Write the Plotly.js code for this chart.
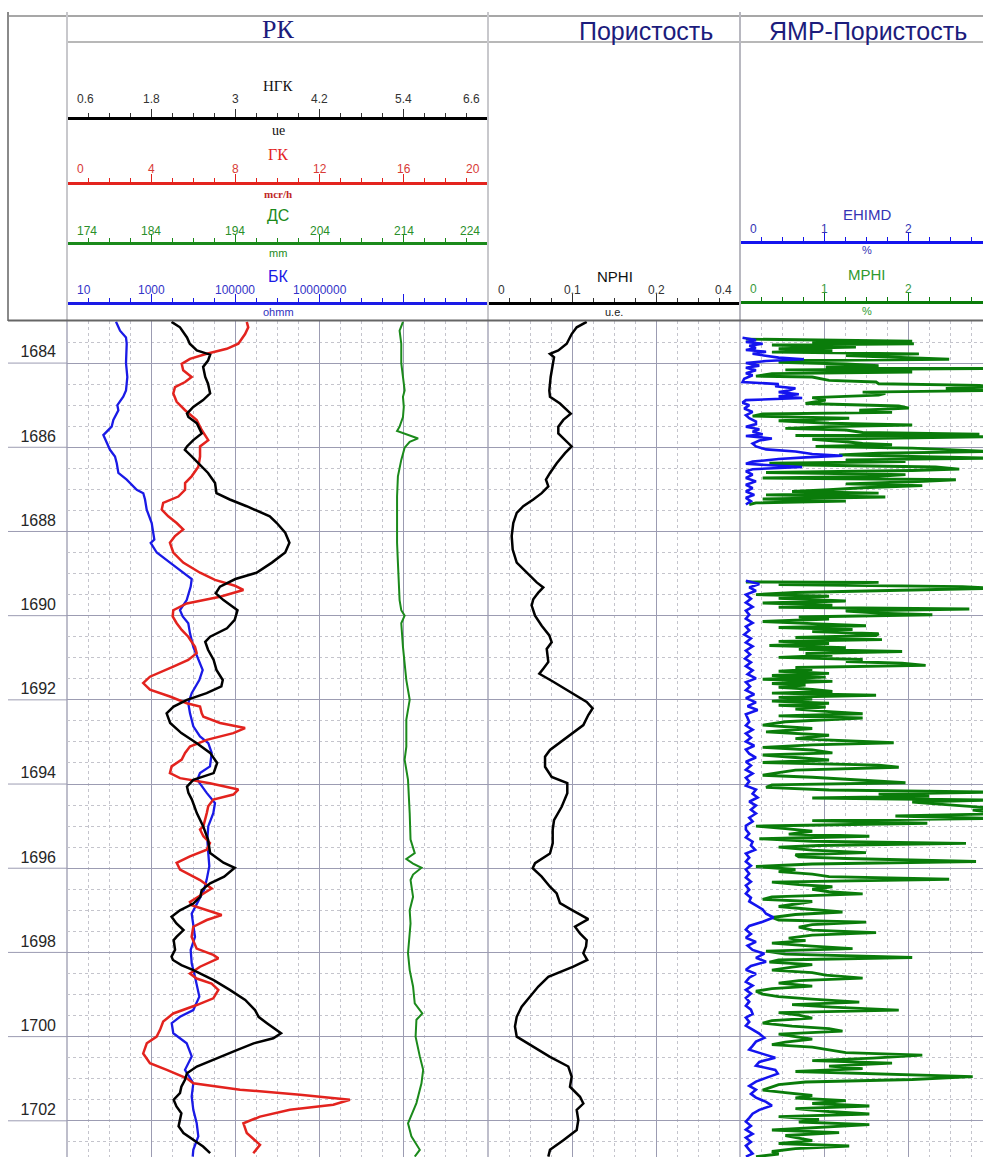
<!DOCTYPE html>
<html><head><meta charset="utf-8">
<script src="https://cdn.plot.ly/plotly-3.0.1.min.js"></script>
<style>html,body{margin:0;padding:0;background:#fff;overflow:hidden}#chart{width:983px;height:1157px}</style>
</head><body><div id="chart"></div>
<script>
// ---------------- DATA ----------------
const depthTicks = [1684,1686,1688,1690,1692,1694,1696,1698,1700,1702];

const ngkDepth = [1683.02,1683.15,1683.39,1683.54,1683.70,1683.80,1683.94,1684.09,1684.33,1684.49,1684.72,1684.88,1685.04,1685.20,1685.28,1685.43,1685.67,1685.83,1685.98,1686.06,1686.22,1686.38,1686.61,1686.85,1687.09,1687.24,1687.40,1687.64,1687.80,1688.03,1688.27,1688.50,1688.74,1688.98,1689.13,1689.31,1689.47,1689.63,1689.87,1690.10,1690.30,1690.50,1690.62,1690.81,1691.05,1691.29,1691.53,1691.68,1691.84,1692.00,1692.16,1692.32,1692.55,1692.79,1693.03,1693.26,1693.50,1693.74,1693.90,1694.06,1694.21,1694.37,1694.69,1695.00,1695.32,1695.64,1695.87,1695.99,1696.20,1696.36,1696.52,1696.68,1696.84,1697.00,1697.15,1697.31,1697.47,1697.63,1697.71,1697.94,1698.10,1698.18,1698.30,1698.42,1698.66,1698.89,1699.13,1699.37,1699.53,1699.68,1699.84,1699.92,1700.04,1700.16,1700.32,1700.55,1700.71,1700.87,1701.03,1701.19,1701.34,1701.50,1701.66,1701.82,1701.98,1702.13,1702.29,1702.45,1702.61,1702.77];
const ngk = [2.09,2.21,2.31,2.35,2.45,2.64,2.61,2.54,2.57,2.61,2.64,2.54,2.40,2.31,2.33,2.45,2.52,2.40,2.31,2.28,2.38,2.47,2.61,2.71,2.73,2.92,3.16,3.49,3.59,3.71,3.77,3.71,3.52,3.30,3.00,2.78,2.72,2.83,3.03,2.99,2.88,2.64,2.57,2.61,2.69,2.73,2.82,2.80,2.59,2.31,2.12,2.02,2.07,2.23,2.45,2.64,2.74,2.69,2.40,2.31,2.33,2.38,2.45,2.54,2.61,2.64,2.83,2.99,2.84,2.64,2.52,2.50,2.40,2.21,2.09,2.16,2.26,2.16,2.12,2.14,2.09,2.11,2.23,2.40,2.69,2.92,3.14,3.28,3.33,3.45,3.59,3.65,3.54,3.26,3.02,2.69,2.45,2.31,2.28,2.23,2.21,2.12,2.16,2.23,2.21,2.19,2.26,2.40,2.54,2.64];

const gkDepth = [1683.02,1683.15,1683.31,1683.54,1683.66,1683.78,1683.90,1684.02,1684.17,1684.33,1684.45,1684.57,1684.72,1684.92,1685.12,1685.35,1685.59,1685.83,1685.98,1686.22,1686.46,1686.69,1686.85,1687.01,1687.17,1687.32,1687.48,1687.64,1687.80,1687.95,1688.11,1688.27,1688.50,1688.74,1688.98,1689.15,1689.29,1689.39,1689.55,1689.71,1689.87,1690.02,1690.18,1690.34,1690.50,1690.74,1690.89,1691.05,1691.21,1691.45,1691.60,1691.76,1691.92,1692.08,1692.16,1692.32,1692.40,1692.55,1692.67,1692.79,1692.95,1693.11,1693.26,1693.42,1693.58,1693.74,1693.86,1693.98,1694.13,1694.25,1694.37,1694.53,1694.69,1695.00,1695.08,1695.24,1695.40,1695.56,1695.72,1695.87,1696.03,1696.19,1696.28,1696.48,1696.60,1696.80,1696.88,1697.00,1697.11,1697.23,1697.39,1697.63,1697.91,1698.06,1698.14,1698.34,1698.50,1698.62,1698.74,1698.89,1699.09,1699.25,1699.45,1699.64,1699.84,1700.00,1700.16,1700.40,1700.63,1700.79,1700.99,1701.11,1701.26,1701.38,1701.50,1701.62,1701.74,1701.90,1702.06,1702.29,1702.57,1702.77];
const gk = [8.54,8.61,8.46,8.14,7.59,6.64,5.84,5.45,5.52,5.92,5.61,5.13,5.05,5.21,5.61,6.16,6.40,6.71,6.32,6.32,6.24,5.92,5.61,5.61,5.29,4.57,4.50,4.81,5.21,5.52,5.13,4.89,5.05,5.52,6.32,7.03,7.98,8.38,7.27,5.69,5.05,5.02,5.21,5.45,5.76,6.08,6.16,5.76,5.05,3.94,3.62,3.94,4.89,5.69,6.32,6.40,6.48,7.27,8.46,7.90,6.64,5.84,5.61,5.45,4.97,4.89,5.37,6.79,8.14,7.90,6.95,6.71,6.64,6.48,6.32,6.48,6.79,6.64,5.84,5.21,5.37,6.00,6.32,6.87,6.48,5.84,5.92,6.64,7.35,6.64,6.00,5.92,6.16,6.95,7.19,6.32,5.84,6.16,6.87,7.19,6.95,6.16,5.05,4.57,4.42,4.26,3.79,3.62,3.94,4.74,5.69,6.00,8.22,11.07,13.44,12.65,10.59,9.17,8.38,8.54,9.17,8.85];

const dsDepth = [1683.02,1683.23,1683.54,1684.00,1684.33,1684.65,1684.80,1685.04,1685.28,1685.51,1685.61,1685.67,1685.79,1685.87,1686.01,1686.30,1686.69,1687.17,1687.64,1688.27,1688.74,1689.37,1689.63,1689.87,1690.00,1690.18,1690.74,1691.53,1692.00,1692.47,1693.11,1693.42,1693.90,1694.69,1695.32,1695.64,1695.78,1695.89,1695.99,1696.15,1696.28,1696.68,1697.00,1697.31,1697.63,1698.02,1698.42,1698.81,1699.21,1699.45,1699.60,1700.00,1700.47,1700.79,1701.11,1701.58,1702.06,1702.37,1702.69,1702.85];
const ds = [213.9,213.5,213.7,213.7,213.9,214.1,213.9,214.0,213.9,213.5,213.2,214.1,215.7,214.7,214.1,213.7,213.3,213.2,213.2,213.2,213.3,213.5,213.5,213.7,214.1,213.7,213.9,214.3,214.7,214.3,214.3,214.1,214.5,214.7,214.8,215.3,214.3,215.1,216.1,215.1,214.8,215.1,214.7,214.8,214.7,214.5,214.7,215.1,215.3,216.2,215.5,215.4,215.9,216.3,216.1,215.5,214.5,214.9,215.9,215.3];

const bkDepth = [1683.02,1683.23,1683.39,1683.54,1684.00,1684.33,1684.65,1684.80,1685.00,1685.12,1685.35,1685.51,1685.71,1685.91,1686.06,1686.22,1686.38,1686.61,1686.77,1687.01,1687.09,1687.24,1687.48,1687.80,1688.01,1688.19,1688.27,1688.50,1688.74,1688.98,1689.13,1689.31,1689.63,1689.87,1690.02,1690.18,1690.42,1690.74,1691.05,1691.29,1691.53,1691.84,1692.08,1692.32,1692.63,1692.87,1693.03,1693.26,1693.58,1693.74,1693.90,1694.21,1694.45,1694.69,1695.00,1695.32,1695.64,1695.95,1696.27,1696.52,1697.08,1697.63,1697.94,1698.26,1698.58,1699.05,1699.37,1699.53,1699.68,1699.92,1700.16,1700.47,1700.79,1701.11,1701.42,1701.74,1702.06,1702.37,1702.69,1702.85];
const bk = [146,182,252,262,252,271,252,217,157,166,126,115,73,88,105,138,152,166,262,453,649,713,782,1028,1122,1186,973,1352,2798,5781,9162,8670,6970,4830,5600,7600,8350,10000,13150,16720,13900,9162,7600,8350,10000,14420,22700,27350,24900,14420,12450,20800,32750,29850,22700,21500,22700,24000,20800,17950,9162,10970,8670,9162,10970,13900,10000,4830,3070,3350,6970,9162,6350,10000,9162,10000,12050,13150,10000,9680];

const nphiDepth = [1683.02,1683.15,1683.31,1683.54,1683.70,1683.78,1683.86,1684.02,1684.33,1684.65,1684.80,1684.96,1685.20,1685.35,1685.51,1685.67,1685.83,1685.98,1686.14,1686.38,1686.61,1686.77,1686.93,1687.09,1687.24,1687.40,1687.56,1687.80,1688.11,1688.43,1688.74,1688.98,1689.21,1689.33,1689.45,1689.61,1689.76,1690.00,1690.24,1690.47,1690.63,1690.79,1690.94,1691.10,1691.26,1691.38,1691.57,1691.81,1692.05,1692.20,1692.36,1692.60,1692.72,1692.95,1693.19,1693.35,1693.59,1693.83,1693.98,1694.22,1694.54,1694.86,1695.09,1695.41,1695.65,1695.88,1696.00,1696.20,1696.44,1696.60,1696.83,1696.99,1697.21,1697.39,1697.55,1697.71,1697.86,1698.02,1698.18,1698.34,1698.58,1698.81,1699.05,1699.29,1699.53,1699.76,1700.00,1700.24,1700.48,1700.71,1700.95,1701.19,1701.43,1701.59,1701.74,1701.98,1702.22,1702.46,1702.69,1702.85];
const nphi = [0.1175,0.1056,0.0996,0.0937,0.0837,0.0738,0.0786,0.0770,0.0746,0.0730,0.0738,0.0857,0.0985,0.0897,0.0837,0.0837,0.0917,0.0996,0.0917,0.0818,0.0738,0.0690,0.0718,0.0639,0.0539,0.0420,0.0342,0.0301,0.0282,0.0294,0.0342,0.0461,0.0580,0.0658,0.0599,0.0539,0.0520,0.0560,0.0639,0.0730,0.0758,0.0699,0.0711,0.0718,0.0658,0.0611,0.0777,0.0976,0.1175,0.1246,0.1194,0.1135,0.1056,0.0897,0.0738,0.0679,0.0679,0.0758,0.0944,0.0944,0.0877,0.0786,0.0770,0.0770,0.0738,0.0560,0.0532,0.0639,0.0738,0.0818,0.0857,0.0996,0.1194,0.1036,0.1095,0.1175,0.1167,0.1135,0.1182,0.1016,0.0718,0.0599,0.0500,0.0401,0.0342,0.0321,0.0342,0.0539,0.0738,0.0956,0.0996,0.0976,0.1095,0.1135,0.1056,0.1075,0.1056,0.0897,0.0738,0.0718];

const mphiDepth = [1683.43,1683.48,1683.51,1683.54,1683.57,1683.62,1683.66,1683.70,1683.74,1683.78,1683.82,1683.86,1683.91,1683.94,1683.98,1684.02,1684.06,1684.09,1684.13,1684.16,1684.21,1684.25,1684.31,1684.33,1684.41,1684.45,1684.49,1684.53,1684.57,1684.60,1684.65,1684.69,1684.72,1684.76,1684.82,1684.88,1684.96,1685.02,1685.07,1685.12,1685.17,1685.21,1685.26,1685.31,1685.37,1685.43,1685.47,1685.51,1685.55,1685.59,1685.65,1685.69,1685.72,1685.75,1685.81,1685.87,1685.91,1685.94,1685.98,1686.02,1686.06,1686.10,1686.14,1686.18,1686.22,1686.26,1686.30,1686.34,1686.38,1686.42,1686.47,1686.52,1686.55,1686.60,1686.65,1686.69,1686.73,1686.77,1686.82,1686.87,1686.91,1686.96,1687.01,1687.05,1687.09,1687.13,1687.18,1687.23,1687.28,1687.32,1687.36,
  null,
  1689.20,1689.21,1689.26,1689.31,1689.35,1689.40,1689.45,1689.50,1689.54,1689.59,1689.65,1689.70,1689.75,1689.80,1689.84,1689.89,1689.94,1689.98,1690.03,1690.08,1690.14,1690.19,1690.24,1690.28,1690.33,1690.38,1690.43,1690.47,1690.52,1690.57,1690.61,1690.66,1690.71,1690.76,1690.80,1690.85,1690.90,1690.94,1690.99,1691.04,1691.09,1691.13,1691.18,1691.23,1691.28,1691.32,1691.37,1691.42,1691.46,1691.51,1691.56,1691.61,1691.65,1691.70,1691.75,1691.80,1691.84,1691.89,1691.94,1691.98,1692.03,1692.08,1692.13,1692.17,1692.22,1692.28,1692.33,1692.38,1692.43,
  1692.52,1692.60,1692.68,1692.76,1692.84,1692.92,1693.02,1693.07,1693.13,1693.19,1693.26,1693.31,1693.37,1693.43,1693.49,1693.55,1693.60,1693.67,1693.73,1693.79,1693.84,1693.90,1693.97,1694.02,1694.08,1694.14,1694.19,1694.24,1694.29,1694.33,1694.38,1694.43,1694.48,1694.52,1694.57,1694.62,1694.67,1694.71,1694.76,1694.82,1694.87,1694.93,1695.00,1695.06,1695.12,1695.19,1695.24,1695.30,1695.36,1695.41,1695.46,1695.50,1695.57,1695.63,1695.68,1695.73,1695.77,1695.84,1695.90,1695.96,1696.03,1696.08,1696.14,1696.20,1696.26,1696.33,1696.39,1696.44,1696.50,1696.56,1696.61,1696.68,1696.74,1696.79,1696.85,1696.91,1696.98,1697.04,1697.10,1697.17,1697.23,1697.28,1697.34,1697.40,1697.47,1697.53,1697.59,1697.66,1697.72,1697.78,1697.85,1697.91,1697.97,1698.04,1698.12,1698.18,1698.23,1698.29,1698.35,1698.42,1698.48,1698.54,1698.61,1698.67,1698.73,1698.80,1698.86,1698.92,1698.99,1699.05,1699.11,1699.18,1699.24,1699.30,1699.37,1699.43,1699.49,1699.56,1699.62,1699.68,1699.75,1699.81,1699.87,1699.94,1700.00,1700.06,1700.13,1700.19,1700.25,1700.32,1700.38,1700.44,1700.51,1700.57,1700.63,1700.70,1700.76,1700.83,1700.89,1700.95,1701.02,1701.08,1701.14,1701.21,1701.27,1701.33,1701.40,1701.46,1701.52,1701.59,1701.65,1701.71,1701.78,1701.84,1701.90,1701.97,1702.03,1702.09,1702.16,1702.22,1702.28,1702.35,1702.41,1702.47,1702.54,1702.60,1702.66,1702.73,1702.79,1702.85];
const mphi = [0.07,2.05,0.86,2.07,0.38,1.38,0.46,1.10,0.38,2.13,1.26,1.85,2.49,0.70,0.46,1.26,1.65,1.02,3.0,0.54,2.05,0.38,0.19,0.86,1.06,1.62,1.65,2.85,3.0,2.45,3.0,1.46,1.73,1.65,0.86,1.02,0.78,1.89,2.01,1.42,1.81,0.27,0.15,1.30,0.46,1.06,2.05,1.06,0.54,1.26,1.46,2.85,0.66,3.0,0.86,1.26,1.46,1.81,0.90,2.05,2.65,3.0,1.65,1.18,2.05,3.0,1.26,1.97,0.35,0.78,2.33,2.61,2.05,0.31,1.97,1.65,0.27,2.57,2.05,1.26,2.17,1.46,1.06,0.62,1.65,0.31,1.73,0.27,1.26,0.19,0.11,
  null,
  0.07,1.65,0.46,2.65,3.0,1.65,0.66,0.19,1.06,0.46,1.26,0.27,1.10,0.46,2.73,1.26,1.65,2.29,0.70,1.06,0.27,0.86,1.50,0.46,1.34,0.86,1.65,1.62,0.66,1.69,0.46,1.06,0.35,1.26,0.70,1.93,0.78,1.10,0.46,1.46,1.26,1.93,2.21,0.66,0.86,0.46,1.06,0.38,1.02,0.27,1.10,0.38,0.78,0.46,0.86,1.10,0.38,1.62,0.46,0.86,0.38,1.06,0.46,1.02,0.66,1.06,1.46,0.46,1.46,
  0.54,0.27,0.86,0.31,1.06,0.66,1.83,0.86,0.27,0.86,1.10,0.27,0.66,1.06,0.27,1.65,1.89,0.66,0.46,0.27,0.86,1.38,1.97,0.38,0.31,1.06,3.0,1.65,2.25,0.86,3.0,2.05,2.37,2.53,3.0,2.77,3.0,3.0,1.85,3.0,0.86,2.23,0.19,0.54,0.86,0.58,1.54,0.23,0.86,2.69,0.94,0.46,0.86,1.50,0.66,0.70,1.26,2.81,0.86,0.19,0.66,0.46,0.86,1.06,2.49,0.38,0.70,1.10,0.86,1.06,1.46,0.38,0.27,0.86,0.66,0.46,0.86,1.22,0.66,0.38,0.46,1.50,0.86,0.70,0.86,1.62,0.86,0.58,0.78,0.38,0.86,1.34,0.31,0.54,2.05,0.46,0.35,0.86,0.62,0.38,0.86,1.02,1.46,0.70,0.46,0.86,0.38,0.19,0.27,0.46,0.86,1.42,0.62,1.10,1.89,0.46,0.70,0.86,0.38,0.27,0.62,1.06,1.22,0.46,0.66,0.86,0.54,0.38,0.86,1.06,1.26,2.17,1.58,0.86,1.81,1.06,1.46,0.66,1.65,2.77,2.05,0.78,0.46,0.35,0.27,0.54,0.86,0.66,1.26,0.86,1.54,0.66,1.06,1.54,0.46,0.94,0.70,1.54,0.86,0.38,1.18,0.54,0.70,0.86,0.46,1.30,0.66,0.38,0.46,0.19];

const ehimdDepth = [1683.40,1683.45,1683.50,1683.54,1683.59,1683.64,1683.69,1683.73,1683.78,1683.83,1683.87,1683.91,1683.95,1684.00,1684.06,1684.11,1684.17,1684.24,1684.29,1684.37,1684.45,1684.50,1684.55,1684.60,1684.65,1684.69,1684.74,1684.79,1684.83,1684.88,1684.94,1685.00,1685.08,1685.16,1685.24,1685.31,1685.39,1685.45,1685.51,1685.57,1685.63,1685.69,1685.73,1685.79,1685.84,1685.91,1685.98,1686.05,1686.10,1686.16,1686.20,1686.24,1686.28,1686.34,1686.39,1686.44,1686.47,1686.52,1686.57,1686.65,1686.73,1686.81,1686.89,1686.97,1687.05,1687.13,1687.20,1687.28,1687.36,
  null,
  1689.17,1689.25,1689.33,1689.41,1689.50,1689.60,1689.69,1689.79,1689.88,1689.98,1690.07,1690.17,1690.26,1690.35,1690.45,1690.54,1690.64,1690.73,1690.83,1690.92,1691.02,1691.11,1691.20,1691.30,1691.39,1691.49,1691.58,1691.68,1691.77,1691.87,1691.96,1692.06,1692.15,1692.24,1692.34,
  1692.52,1692.61,1692.71,1692.80,1692.90,1692.99,1693.09,1693.18,1693.28,1693.37,1693.47,1693.56,1693.66,1693.75,1693.85,1693.94,1694.04,1694.13,1694.23,1694.32,1694.42,1694.51,1694.61,1694.70,1694.80,1694.89,1694.99,1695.08,1695.18,1695.27,1695.37,1695.46,1695.56,1695.65,1695.75,1695.84,1695.94,1696.03,1696.13,1696.22,1696.32,1696.41,1696.51,1696.60,1696.70,1696.79,1696.89,1696.98,1697.08,1697.17,1697.27,1697.37,1697.46,1697.56,1697.65,1697.75,1697.84,1697.94,1698.03,1698.13,1698.22,1698.32,1698.41,1698.51,1698.60,1698.70,1698.79,1698.89,1698.98,1699.08,1699.17,1699.27,1699.36,1699.46,1699.55,1699.65,1699.74,1699.84,1699.93,1700.03,1700.12,1700.22,1700.31,1700.41,1700.50,1700.60,1700.69,1700.79,1700.88,1700.98,1701.07,1701.17,1701.26,1701.36,1701.45,1701.55,1701.64,1701.74,1701.83,1701.93,1702.02,1702.12,1702.21,1702.31,1702.40,1702.50,1702.59,1702.69,1702.78,1702.85];
const ehimd = [0.03,0.19,0.07,0.27,0.11,0.19,0.07,0.31,0.15,0.31,0.46,0.76,0.31,0.07,0.23,0.07,0.19,0.07,0.15,0.05,0.03,0.46,0.42,0.66,0.58,0.46,0.70,0.46,0.74,0.07,0.03,0.11,0.05,0.15,0.07,0.11,0.19,0.19,0.07,0.23,0.15,0.27,0.07,0.38,0.23,0.15,0.19,0.31,0.66,0.86,1.22,0.78,0.46,0.15,0.07,0.46,0.74,0.15,0.07,0.15,0.07,0.19,0.07,0.15,0.07,0.17,0.07,0.13,0.07,
  null,
  0.07,0.23,0.11,0.19,0.07,0.13,0.07,0.15,0.07,0.11,0.07,0.15,0.07,0.11,0.05,0.13,0.07,0.15,0.07,0.12,0.06,0.13,0.07,0.15,0.09,0.19,0.07,0.12,0.07,0.17,0.07,0.19,0.09,0.21,0.07,
  0.11,0.07,0.15,0.07,0.13,0.07,0.17,0.07,0.11,0.19,0.07,0.13,0.07,0.15,0.07,0.11,0.07,0.19,0.15,0.21,0.11,0.19,0.13,0.19,0.11,0.15,0.07,0.07,0.11,0.07,0.15,0.13,0.18,0.07,0.11,0.07,0.13,0.07,0.11,0.07,0.13,0.07,0.11,0.07,0.13,0.11,0.19,0.27,0.31,0.40,0.27,0.11,0.07,0.13,0.07,0.19,0.09,0.15,0.29,0.19,0.31,0.13,0.07,0.19,0.11,0.07,0.15,0.07,0.13,0.07,0.11,0.07,0.13,0.15,0.07,0.11,0.07,0.15,0.23,0.29,0.19,0.15,0.11,0.27,0.42,0.23,0.19,0.42,0.45,0.31,0.19,0.11,0.19,0.13,0.19,0.31,0.38,0.23,0.15,0.11,0.07,0.13,0.07,0.15,0.07,0.13,0.07,0.11,0.15,0.07];

// scale (tick) labels of the header
const ngkTicks = [0.6,1.8,3,4.2,5.4,6.6];
const gkTicks = [0,4,8,12,16,20];
const dsTicks = [174,184,194,204,214,224];
const bkTicks = [10,1000,100000,10000000];
const nphiTicks = [0,0.1,0.2,0.3];
const nphiTickText = ['0','0.1','0.2','0.4'];
const nmrTicks = [0,1,2];

// ---------------- LAYOUT ----------------
const W = 983, H = 1157;
const X = p => p / W;
const Y = p => 1 - p / H;
const SANS = 'Liberation Sans, Arial, sans-serif';
const SERIF = 'Liberation Serif, Times New Roman, serif';
const MAJOR = '#9c9cb2', MINOR = '#c4c4cc';
const NAVY = '#1c1c7c';
const C_BLACK = '#000000', C_RED = '#e3231e', C_GREEN = '#1b8a1b', C_BLUE = '#1a1ae6';
const C_MPHI = '#0a7c0a', C_EHIMD = '#1414ee';

function scaleAxis(o, minor) {
  return Object.assign({
    anchor: 'free', side: 'top', showline: true, linewidth: 3, zeroline: false,
    ticks: 'outside', ticklen: 8, tickwidth: 1, showticklabels: false,
    tickmode: 'array', showgrid: false, fixedrange: true,
    minor: Object.assign({ticks: 'outside', ticklen: 4, tickwidth: 1}, minor)
  }, o);
}
const T1 = [X(67), X(488)], T2 = [X(488), X(740)], T3 = [X(740), 1];
const nmrMax = (W - 740) / 84;

const layout = {
  width: W, height: H, margin: {l: 0, r: 0, t: 0, b: 0},
  paper_bgcolor: '#ffffff', plot_bgcolor: 'rgba(0,0,0,0)', showlegend: false,
  xaxis: scaleAxis({domain: T1, range: [174, 224], position: Y(243), linecolor: C_GREEN, tickcolor: C_GREEN,
    tickvals: [184, 194, 204, 214], showgrid: true, gridcolor: MAJOR, gridwidth: 1},
    {dtick: 2.5, tick0: 174, tickcolor: C_GREEN, showgrid: true, gridcolor: MINOR, griddash: 'dot', gridwidth: 1}),
  xaxis2: scaleAxis({overlaying: 'x', type: 'log', range: [1, 11], position: Y(303), linecolor: C_BLUE, tickcolor: C_BLUE,
    tickvals: [1e3, 1e5, 1e7, 1e9]},
    {tickmode: 'array', tickvals: Array.from({length: 21}, (_, i) => Math.pow(10, 1 + 0.5 * i)), tickcolor: C_BLUE}),
  xaxis3: scaleAxis({overlaying: 'x', range: [0, 20], position: Y(183), linecolor: C_RED, tickcolor: C_RED,
    tickvals: [4, 8, 12, 16]}, {dtick: 1, tick0: 0, tickcolor: C_RED}),
  xaxis4: scaleAxis({overlaying: 'x', range: [0.6, 6.6], position: Y(118), linecolor: C_BLACK, tickcolor: '#333',
    tickvals: [1.8, 3, 4.2, 5.4]}, {dtick: 0.3, tick0: 0.6, tickcolor: '#333'}),
  xaxis5: scaleAxis({domain: T2, range: [0, 0.3], position: Y(303), linecolor: C_BLACK, tickcolor: '#333',
    tickvals: [0.1, 0.2], showgrid: true, gridcolor: MAJOR, gridwidth: 1},
    {dtick: 0.025, tick0: 0, tickcolor: '#333', showgrid: true, gridcolor: MINOR, griddash: 'dot', gridwidth: 1}),
  xaxis6: scaleAxis({domain: T3, range: [0, nmrMax], position: Y(302), linecolor: C_MPHI, tickcolor: C_MPHI,
    tickvals: [1, 2, 3], showgrid: true, gridcolor: MAJOR, gridwidth: 1},
    {dtick: 0.25, tick0: 0, tickcolor: C_MPHI, showgrid: true, gridcolor: MINOR, griddash: 'dot', gridwidth: 1}),
  xaxis7: scaleAxis({overlaying: 'x6', range: [0, nmrMax], position: Y(242), linecolor: C_EHIMD, tickcolor: C_EHIMD,
    tickvals: [1, 2, 3]}, {dtick: 0.25, tick0: 0, tickcolor: C_EHIMD}),
  yaxis: {
    domain: [0, Y(321)], range: [1702.86, 1683.0], anchor: 'x', fixedrange: true,
    tickmode: 'array', tickvals: depthTicks, ticktext: depthTicks.map(String), ticks: '',
    showline: false, zeroline: false, showgrid: true, gridcolor: MAJOR, gridwidth: 1,
    minor: {dtick: 0.5, tick0: 1683, showgrid: true, gridcolor: MINOR, griddash: 'dot', gridwidth: 1},
    tickfont: {family: SANS, size: 16, color: '#262626'},
    ticklabelposition: 'outside top', ticklabelstandoff: 10
  },
  shapes: [], annotations: []
};

// frame lines
function pline(x0, y0, x1, y1, color, width, layer) {
  layout.shapes.push({type: 'line', xref: 'paper', yref: 'paper', x0: X(x0), y0: Y(y0), x1: X(x1), y1: Y(y1),
    line: {color: color, width: width}, layer: layer || 'above'});
}
pline(8, 16, 983, 16, '#8a8a8a', 1.5);
pline(67, 42, 983, 42, '#a0a0a0', 1.5);
pline(8, 12, 8, 321, '#8a8a8a', 2);
pline(67, 12, 67, 321, '#c8c8cc', 2);
pline(488, 12, 488, 321, '#c8c8cc', 2);
pline(740, 12, 740, 321, '#b8b8c0', 2);
pline(67, 321, 67, 1157, '#a8a8ba', 1.5, 'below');
pline(488, 321, 488, 1157, '#a8a8ba', 1.5, 'below');
pline(740, 321, 740, 1157, '#a8a8ba', 1.5, 'below');
pline(8, 320.5, 983, 320.5, '#666666', 2);
// depth track major lines
depthTicks.forEach(d => layout.shapes.push({type: 'line', xref: 'paper', yref: 'y', x0: X(8), x1: X(67), y0: d, y1: d,
  line: {color: MAJOR, width: 1}, layer: 'below'}));

// header text
function ptext(x, y, text, family, size, color) {
  layout.annotations.push({xref: 'paper', yref: 'paper', x: X(x), y: Y(y), text: text, showarrow: false,
    xanchor: 'center', yanchor: 'middle', font: {family: family, size: size, color: color}});
}
ptext(278, 30, 'РК', SERIF, 26, NAVY);
ptext(646, 30.5, 'Пористость', SANS, 25, NAVY);
ptext(868, 30.5, 'ЯМР-Пористость', SANS, 25, NAVY);
ptext(278, 86, 'НГК', SERIF, 15, '#111');
ptext(278, 130, 'ue', SERIF, 14, '#111');
ptext(278, 155, 'ГК', SERIF, 16, C_RED);
ptext(278, 194, '<b>mcr/h</b>', SERIF, 11, '#c02828');
ptext(278, 216, 'ДС', SANS, 16, C_GREEN);
ptext(278, 253, 'mm', SANS, 11, C_GREEN);
ptext(278, 276, 'БК', SANS, 16, C_BLUE);
ptext(278, 312, 'ohmm', SANS, 11, '#3030c0');
ptext(615, 276, 'NPHI', SANS, 15, '#111');
ptext(614, 312, 'u.e.', SANS, 11, '#222');
ptext(867, 215, 'EHIMD', SANS, 15, '#3434b4');
ptext(867, 250, '%', SANS, 11, '#3434b4');
ptext(867, 274, 'MPHI', SANS, 15, '#2f9a2f');
ptext(867, 311.5, '%', SANS, 11, '#2f9a2f');

function tickLabels(ref, vals, texts, yPix, color, rmin, rmax, isLog) {
  vals.forEach((v, i) => {
    const pos = isLog ? Math.log10(v) : v;
    let xa = 'center', xs = 0;
    if (Math.abs(pos - rmin) < 1e-9) { xa = 'left'; xs = 8; }
    else if (Math.abs(pos - rmax) < 1e-9) { xa = 'right'; xs = -6; }
    layout.annotations.push({xref: ref, yref: 'paper', x: pos, y: Y(yPix), text: texts[i], showarrow: false,
      xanchor: xa, yanchor: 'middle', xshift: xs, font: {family: SANS, size: 12, color: color}});
  });
}
tickLabels('x4', ngkTicks, ngkTicks.map(String), 99, '#333', 0.6, 6.6);
tickLabels('x3', gkTicks, gkTicks.map(String), 169, '#d83a36', 0, 20);
tickLabels('x', dsTicks, dsTicks.map(String), 231, '#2a8f2a', 174, 224);
tickLabels('x2', bkTicks, bkTicks.map(String), 290, '#3333c8', 1, 11, true);
tickLabels('x5', nphiTicks, nphiTickText, 290, '#333', 0, 0.3);
tickLabels('x7', nmrTicks, nmrTicks.map(String), 229, '#3434b4', 0, 99);
tickLabels('x6', nmrTicks, nmrTicks.map(String), 289, '#3a9a3a', 0, 99);

const traces = [
  {x: ds, y: dsDepth, xaxis: 'x', yaxis: 'y', mode: 'lines', line: {color: C_GREEN, width: 2}, name: 'ДС'},
  {x: bk, y: bkDepth, xaxis: 'x2', yaxis: 'y', mode: 'lines', line: {color: C_BLUE, width: 2.3}, name: 'БК'},
  {x: gk, y: gkDepth, xaxis: 'x3', yaxis: 'y', mode: 'lines', line: {color: C_RED, width: 2.5}, name: 'ГК'},
  {x: ngk, y: ngkDepth, xaxis: 'x4', yaxis: 'y', mode: 'lines', line: {color: C_BLACK, width: 2.5}, name: 'НГК'},
  {x: nphi, y: nphiDepth, xaxis: 'x5', yaxis: 'y', mode: 'lines', line: {color: C_BLACK, width: 2.5}, name: 'NPHI'},
  {x: mphi, y: mphiDepth, xaxis: 'x6', yaxis: 'y', mode: 'lines', line: {color: C_MPHI, width: 2.9}, connectgaps: false, name: 'MPHI'},
  {x: ehimd, y: ehimdDepth, xaxis: 'x7', yaxis: 'y', mode: 'lines', line: {color: C_EHIMD, width: 2.6}, connectgaps: false, name: 'EHIMD'}
];

Plotly.newPlot('chart', traces, layout, {displayModeBar: false, staticPlot: true});
</script>
</body></html>
